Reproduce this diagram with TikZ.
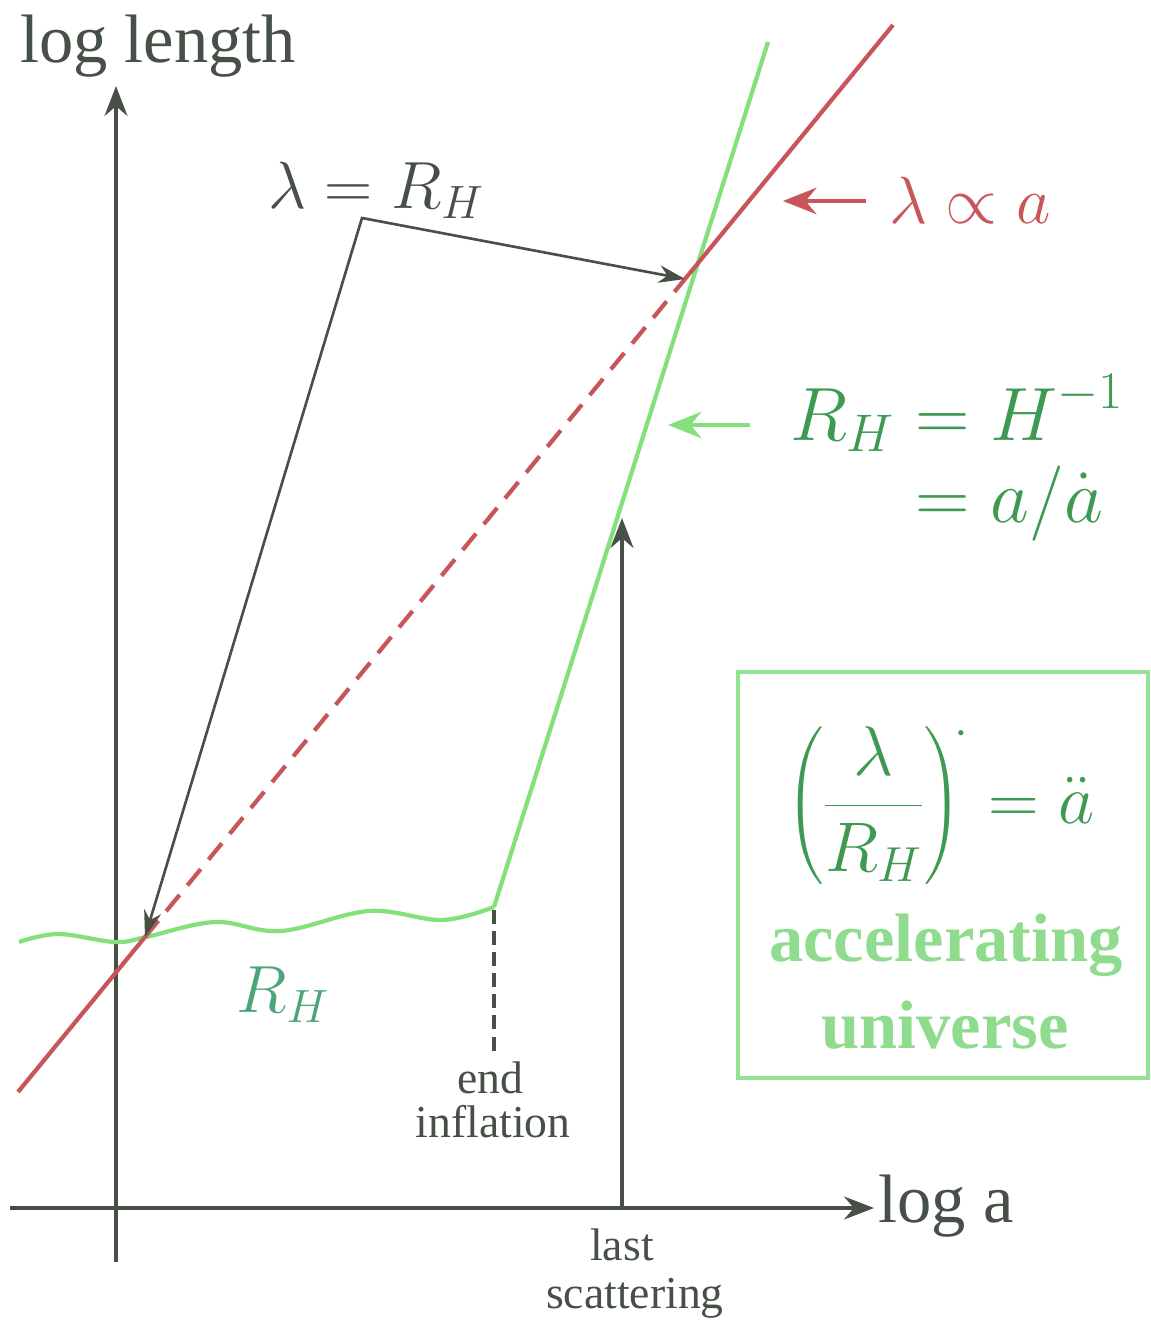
\RequirePackage{fix-cm}
\documentclass[tikz,border=0pt]{standalone}
\usepackage{amsmath}
\usepackage{fontspec}
\setmainfont{Liberation Serif}
\usetikzlibrary{arrows.meta}
\definecolor{axgray}{HTML}{465046}
\definecolor{lred}{HTML}{C8555A}
\definecolor{lgreen}{HTML}{84E07A}
\definecolor{dgreen}{HTML}{3E9A52}
\definecolor{bgreen}{HTML}{90DC8E}
\definecolor{tgreen}{HTML}{4AA67A}
\definecolor{boxgreen}{HTML}{94E294}
\tikzset{
  axis/.style={draw=axgray,line width=2.3pt,-{Stealth[length=17pt,width=13pt]}},
  bigtext/.style={font=\fontsize{39}{46}\selectfont,text=axgray,inner sep=0pt},
  smalltext/.style={font=\fontsize{26}{31}\selectfont,text=axgray,inner sep=0pt},
  mathtext/.style={font=\fontsize{38}{46}\selectfont,inner sep=0pt},
  boldtext/.style={font=\fontsize{39}{46}\selectfont\bfseries,text=bgreen,inner sep=0pt},
  pointer/.style={line width=2.6pt,-{Stealth[length=19pt,width=15pt]}},
  blackarrow/.style={draw=axgray,line width=1.5pt,{Stealth[length=15pt,width=10pt]}-{Stealth[length=15pt,width=10pt]}},
}
\begin{document}
\begin{tikzpicture}[x=0.02cm,y=-0.02cm]
\useasboundingbox (0,0) rectangle (1151,1331);
% coordinates
\coordinate (yb) at (116,1262);
\coordinate (yt) at (116,86);
\coordinate (xl) at (10,1208);
\coordinate (xr) at (874,1208);
\coordinate (r0) at (18,1092);
\coordinate (r1) at (145,937);
\coordinate (r2) at (685,279);
\coordinate (r3) at (893,25);
\coordinate (g0) at (494,907);
\coordinate (g1) at (768,42);
\coordinate (corner) at (362,218);
\coordinate (ls0) at (622,1208);
\coordinate (ls1) at (622,518);
\coordinate (ei0) at (494,910);
\coordinate (ei1) at (494,1055);
% axes
\draw[axis] (yb) -- (yt);
\draw[axis] (xl) -- (xr);
% horizon wavy
\draw[lgreen,line width=2.4pt] plot[smooth,tension=0.6] coordinates {(19,942) (58,934) (115,942) (146,937) (215,922) (281,931) (369,911) (442,920) (494,907)};
% green steep line
\draw[lgreen,line width=2.4pt] (g0) -- (g1);
% red line
\draw[lred,line width=2.4pt] (r0) -- (r1);
\draw[lred,line width=2.4pt,dash pattern=on 12pt off 7pt] (r1) -- (r2);
\draw[lred,line width=2.4pt] (r2) -- (r3);
% end inflation dashed
\draw[axgray,line width=2.6pt,dash pattern=on 8pt off 4pt] (ei0) -- (ei1);
% last scattering arrow
\draw[axis] (ls0) -- (ls1);
% lambda = R_H arrow
\draw[blackarrow] (r1) -- (corner) -- (r2);
% labels
\node[bigtext] (ylab) at (158,46) {log length};
\node[bigtext,anchor=west] (xlab) at (878,1206) {log a};
\node[mathtext,text=axgray] (lrh) at (376,190) {$\lambda = R_H$};
\node[mathtext,text=lred] (lpa) at (970,200) {$\lambda \propto a$};
\coordinate (ra0) at (866,201);
\coordinate (ra1) at (783,201);
\draw[pointer,draw=lred] (ra0) -- (ra1);
\node[mathtext,text=dgreen,font=\fontsize{43}{50}\selectfont] (rhh) at (957,462) {$\begin{aligned} R_H &= H^{-1}\\[-6pt] &= a/\dot a\end{aligned}$};
\coordinate (ga0) at (750,425);
\coordinate (ga1) at (668,425);
\draw[pointer,draw=lgreen] (ga0) -- (ga1);
\node[mathtext,text=tgreen] (rhl) at (283,995) {$R_H$};
\node[smalltext] (endl) at (490,1078) {end};
\node[smalltext] (infl) at (493,1122) {inflation};
\node[smalltext] (lastl) at (622,1245) {last};
\node[smalltext] (scatl) at (635,1298) {scattering};
% box
\node[draw=boxgreen,line width=2.2pt,minimum width=410*0.02cm,minimum height=406*0.02cm,inner sep=0pt] (box) at (943,875) {};
\node[mathtext,text=dgreen,font=\fontsize{40}{48}\selectfont] (frac) at (940,804) {$\displaystyle \left(\frac{\lambda}{R_H}\right)^{\!\cdot} = \ddot a$};
\node[boldtext] (acc) at (946,945) {accelerating};
\node[boldtext] (uni) at (945,1025) {universe};
\end{tikzpicture}
\end{document}
